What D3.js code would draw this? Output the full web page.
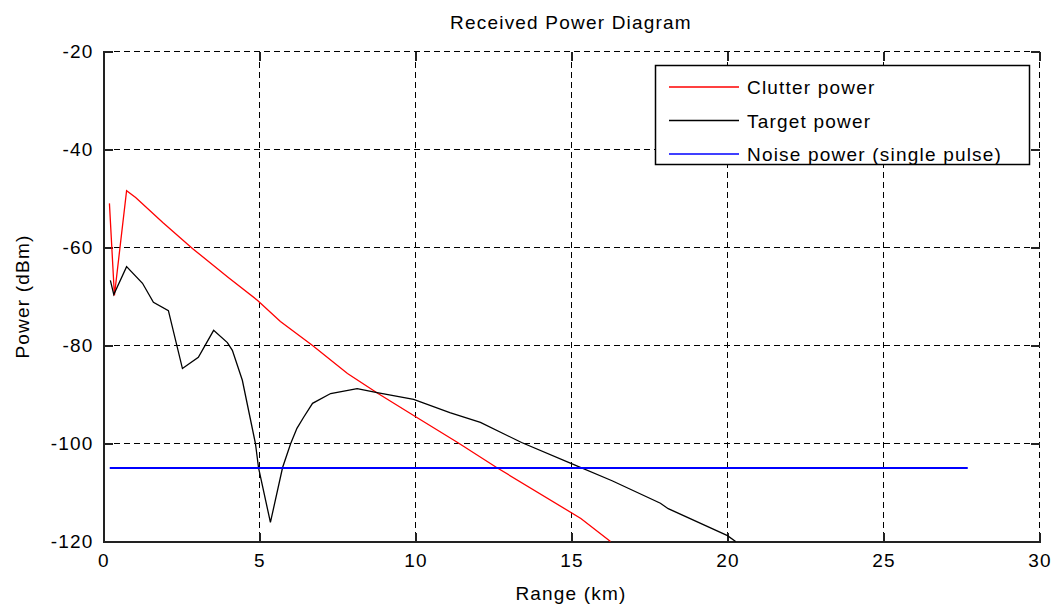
<!DOCTYPE html>
<html>
<head>
<meta charset="utf-8">
<script src="https://cdn.jsdelivr.net/npm/d3@7"></script>
<style>
  body { margin: 0; background: #fff; }
  svg { display: block; }
  text { font-family: "Liberation Sans", Arial, sans-serif; fill: #000; }
</style>
</head>
<body>
<svg></svg>
<script>
// values (range in km, power in dBm)
let clutterRange = [0.19, 0.35, 0.74, 1.03, 1.9, 2.85, 4.0, 4.94, 5.67, 6.7, 7.82, 8.8, 9.94, 11.35, 12.6, 15.3, 16.25]
let clutterPower = [-51, -69.8, -48.4, -49.8, -54.9, -60.2, -66.1, -70.8, -75.1, -80, -85.7, -89.8, -94.3, -99.8, -104.9, -115.3, -120]

let targetRange = [0.22, 0.33, 0.74, 1.25, 1.6, 2.08, 2.53, 3.04, 3.53, 3.97, 4.13, 4.45, 4.87, 4.97, 5.35, 5.74, 6.0, 6.2, 6.41, 6.7, 7.28, 8.13, 8.77, 9.94, 11.1, 12.08, 13.4, 15.0, 16.3, 17.85, 18.1, 20.0, 20.26]
let targetPower = [-66.7, -69.6, -63.9, -67.3, -71.2, -72.9, -84.7, -82.4, -76.9, -79.4, -81, -87.1, -100, -105, -116.1, -104.9, -100, -96.9, -94.7, -91.8, -89.8, -88.8, -89.6, -91.0, -93.7, -95.7, -99.8, -104.1, -107.6, -112.2, -113.3, -118.8, -120]

let noiseRange = [0.2, 27.7]
let noisePower = [-105, -105]

let xTicks = [0, 5, 10, 15, 20, 25, 30]
let yTicks = [-120, -100, -80, -60, -40, -20]

let seriesNames = ["Clutter power", "Target power", "Noise power (single pulse)"]
let seriesColors = ["#ff0000", "#000000", "#0000ff"]

let width = 1054
let height = 606
let plotLeft = 103.5
let plotRight = 1039.5
let plotTop = 51.5
let plotBottom = 541.5
let tickLen = 9
let fontSize = "19px"
let spacing = "1.2px"

let svg = d3.select('svg')
  .attr('width', width)
  .attr('height', height)

let xScale = d3.scaleLinear()
  .domain([0, 30])
  .range([plotLeft, plotRight])

let yScale = d3.scaleLinear()
  .domain([-120, -20])
  .range([plotBottom, plotTop])

// dashed grid (also gives the dashed top and right edges)
let grid = svg.append('g').attr('shape-rendering', 'crispEdges')
grid.selectAll('.gx')
  .data(xTicks.slice(1))
  .enter()
  .append('line')
  .attr('x1', (d) => xScale(d))
  .attr('x2', (d) => xScale(d))
  .attr('y1', plotTop)
  .attr('y2', plotBottom)
  .attr('stroke', '#000')
  .attr('stroke-width', 1)
  .attr('stroke-dasharray', '6,4')

grid.selectAll('.gy')
  .data(yTicks.slice(1))
  .enter()
  .append('line')
  .attr('x1', plotLeft)
  .attr('x2', plotRight)
  .attr('y1', (d) => yScale(d))
  .attr('y2', (d) => yScale(d))
  .attr('stroke', '#000')
  .attr('stroke-width', 1)
  .attr('stroke-dasharray', '6,4')

// axes, ticks pointing inward, plain hyphen minus like the reference
let fmt = (d) => String(d)
let xAxis = d3.axisBottom(xScale).tickValues(xTicks).tickSize(-tickLen).tickPadding(12).tickFormat(fmt)
let yAxis = d3.axisLeft(yScale).tickValues(yTicks).tickSize(-tickLen).tickPadding(10).tickFormat(fmt)
let xAxisTop = d3.axisTop(xScale).tickValues(xTicks).tickSize(-tickLen).tickFormat('')
let yAxisRight = d3.axisRight(yScale).tickValues(yTicks).tickSize(-tickLen).tickFormat('')

let styleAxis = (g, solid) => {
  g.attr('shape-rendering', 'crispEdges')
  g.select('.domain').attr('stroke', solid ? '#222' : 'none').attr('stroke-width', 2)
  g.selectAll('.tick line').attr('stroke', '#222').attr('stroke-width', 1.5)
  g.selectAll('.tick text')
    .style('font-size', fontSize)
    .style('letter-spacing', spacing)
    .style('font-family', '"Liberation Sans", Arial, sans-serif')
    .attr('fill', '#000')
}

svg.append('g')
  .attr('transform', 'translate(0,' + plotBottom + ')')
  .call(xAxis)
  .call((g) => styleAxis(g, true))

svg.append('g')
  .attr('transform', 'translate(' + plotLeft + ',0)')
  .call(yAxis)
  .call((g) => styleAxis(g, true))

svg.append('g')
  .attr('transform', 'translate(0,' + plotTop + ')')
  .call(xAxisTop)
  .call((g) => styleAxis(g, false))

svg.append('g')
  .attr('transform', 'translate(' + plotRight + ',0)')
  .call(yAxisRight)
  .call((g) => styleAxis(g, false))

// series
let line = d3.line()
  .x((d) => xScale(d[0]))
  .y((d) => yScale(d[1]))

let series = [
  d3.zip(clutterRange, clutterPower),
  d3.zip(targetRange, targetPower),
  d3.zip(noiseRange, noisePower),
]

svg.selectAll('.series')
  .data(series)
  .enter()
  .append('path')
  .attr('class', 'series')
  .attr('d', (d) => line(d))
  .attr('fill', 'none')
  .attr('stroke', (d, i) => seriesColors[i])
  .attr('stroke-width', (d, i) => i == 2 ? 2 : 1.3)

// legend
let legend = svg.append('g')
legend.append('rect')
  .attr('x', 655.5)
  .attr('y', 65.5)
  .attr('width', 374)
  .attr('height', 99)
  .attr('fill', '#fff')
  .attr('stroke', '#000')
  .attr('stroke-width', 1.5)

seriesNames.forEach((name, i) => {
  let y = 87 + i * 33.5
  legend.append('line')
    .attr('x1', 669)
    .attr('x2', 739)
    .attr('y1', y)
    .attr('y2', y)
    .attr('stroke', seriesColors[i])
    .attr('stroke-width', 1.5)
  legend.append('text')
    .attr('x', 747)
    .attr('y', y + 7)
    .style('font-size', fontSize)
    .style('letter-spacing', spacing)
    .text(name)
})

// title and axis labels
svg.append('text')
  .attr('x', 571)
  .attr('y', 29)
  .style('text-anchor', 'middle')
  .style('font-size', fontSize)
  .style('letter-spacing', spacing)
  .text('Received Power Diagram')

svg.append('text')
  .attr('x', 571)
  .attr('y', 600)
  .style('text-anchor', 'middle')
  .style('font-size', fontSize)
  .style('letter-spacing', spacing)
  .text('Range (km)')

svg.append('text')
  .attr('transform', 'translate(29,' + ((plotTop + plotBottom) / 2) + ') rotate(-90)')
  .style('text-anchor', 'middle')
  .style('font-size', fontSize)
  .style('letter-spacing', spacing)
  .text('Power (dBm)')
</script>
</body>
</html>
